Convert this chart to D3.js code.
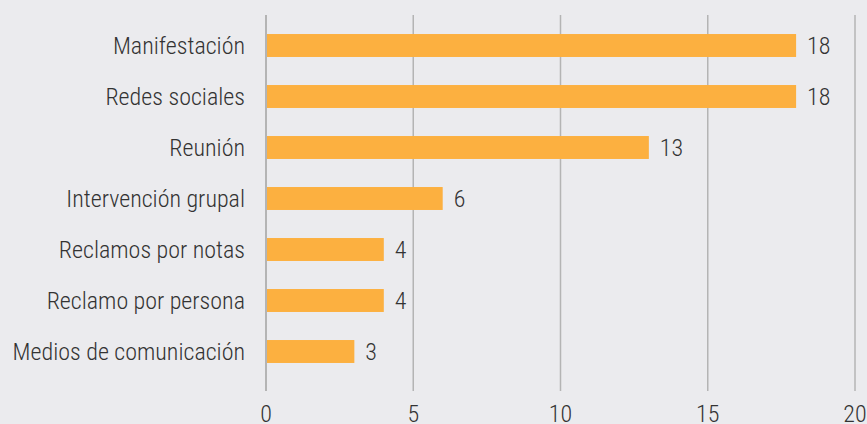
<!DOCTYPE html><html><head><meta charset="utf-8"><script src="https://cdn.jsdelivr.net/npm/d3@7"></script>
<style>body{margin:0;background:#ebebee}text{font-family:Roboto,sans-serif;font-weight:300;font-stretch:condensed;font-size:24px;fill:#333}</style></head><body>
<svg id="chart" width="867" height="424"></svg>
<script>
const categories=["Manifestación","Redes sociales","Reunión","Intervención grupal","Reclamos por notas","Reclamo por persona","Medios de comunicación"];
const values=[18,18,13,6,4,4,3];
const ticks=[0,5,10,15,20];

const svg=d3.select("#chart");
svg.append("rect").attr("width",867).attr("height",424).attr("fill","#ebebee");
const x=d3.scaleLinear().domain([0,20]).range([266,855]);
const y=d3.scaleBand().domain(categories).range([20,377]).paddingInner(0.55).paddingOuter(0.275);

svg.append("g").selectAll("line").data(ticks).join("line")
 .attr("x1",d=>x(d)).attr("x2",d=>x(d)).attr("y1",15).attr("y2",391)
 .attr("stroke","#b4b4b4").attr("stroke-width",d=>d===0?2:1.5);

svg.append("g").selectAll("rect").data(values).join("rect")
 .attr("x",x(0)+1).attr("y",(d,i)=>y(categories[i]))
 .attr("width",d=>x(d)-x(0)-1).attr("height",y.bandwidth()).attr("fill","#fcb040");

svg.append("g").selectAll("text").data(values).join("text")
 .attr("x",d=>x(d)+11).attr("y",(d,i)=>y(categories[i])+y.bandwidth()/2+8.5).text(d=>d);

svg.append("g").selectAll("text").data(categories).join("text")
 .attr("x",245).attr("text-anchor","end").attr("y",d=>y(d)+y.bandwidth()/2+8.5).text(d=>d);

svg.append("g").selectAll("text").data(ticks).join("text")
 .attr("x",d=>x(d)).attr("text-anchor","middle").attr("y",422).text(d=>d);
</script></body></html>
